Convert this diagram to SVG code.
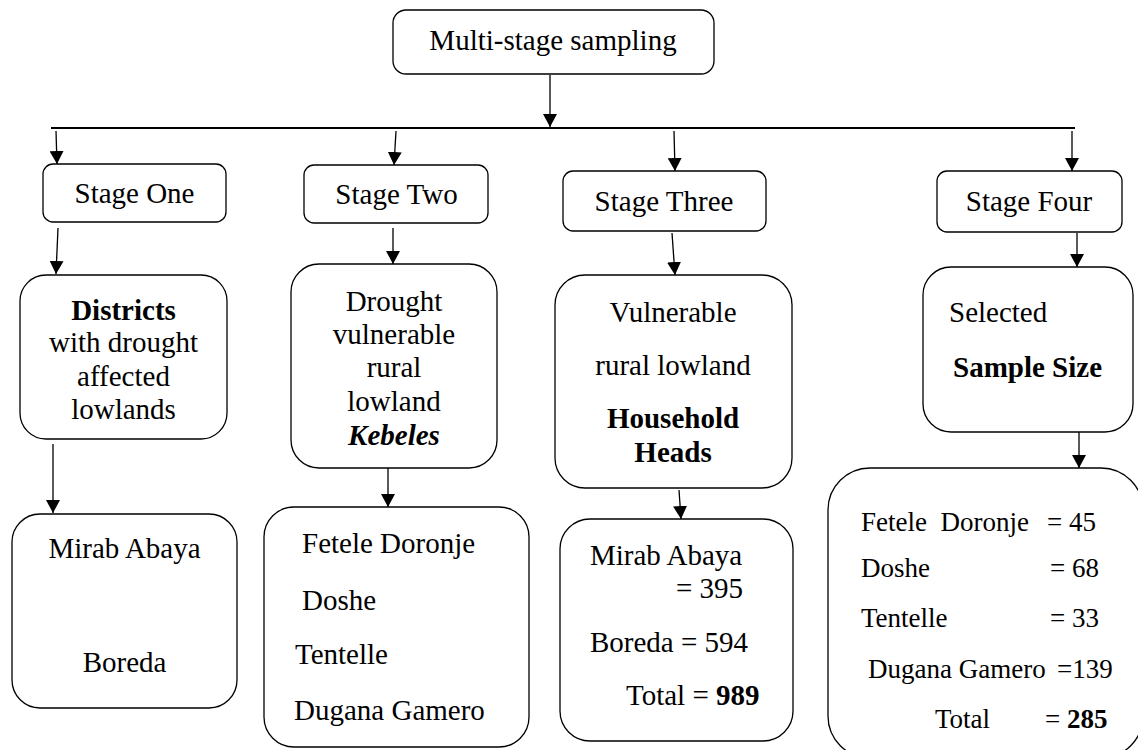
<svg xmlns="http://www.w3.org/2000/svg" width="1138" height="750" viewBox="0 0 1138 750">
<defs>
<style>
.box{fill:#fff;stroke:#000;stroke-width:1.3}
.t{font-family:"Liberation Serif","Times New Roman",serif;font-size:29px;fill:#000}
.s{font-size:27px}
.c{text-anchor:middle}
.e{text-anchor:end}
.b{font-weight:bold}
.bi{font-weight:bold;font-style:italic}
.con line{stroke:#000;stroke-width:1.3;marker-end:url(#ah)}
</style>
<marker id="ah" viewBox="0 0 13 14" refX="13" refY="7" markerWidth="13" markerHeight="14" markerUnits="userSpaceOnUse" orient="auto">
<path d="M0,0 L13,7 L0,14 z" fill="#000"/>
</marker>
</defs>
<rect width="1138" height="750" fill="#fff"/>

<g id="connectors" class="con">
<line x1="550" y1="75" x2="550" y2="127"/>
<line x1="51" y1="128" x2="1075" y2="128" style="stroke-width:2.2;marker-end:none"/>
<line x1="56" y1="131" x2="57" y2="164"/>
<line x1="396" y1="131" x2="394" y2="165"/>
<line x1="674" y1="131" x2="675" y2="171"/>
<line x1="1072" y1="131" x2="1072" y2="171"/>
<line x1="58" y1="228" x2="56" y2="274"/>
<line x1="393" y1="228" x2="393" y2="264"/>
<line x1="672" y1="233" x2="675" y2="275"/>
<line x1="1077" y1="233" x2="1077" y2="267"/>
<line x1="53" y1="444" x2="53" y2="513"/>
<line x1="388" y1="468" x2="388" y2="507"/>
<line x1="679" y1="490" x2="681" y2="519"/>
<line x1="1079" y1="432" x2="1079" y2="468"/>
</g>

<g id="top">
<rect class="box" x="393" y="10" width="321" height="64" rx="13"/>
<text class="t c" x="553" y="50">Multi-stage sampling</text>
</g>

<g id="stage1">
<rect class="box" x="43" y="164" width="183" height="58" rx="10"/>
<text class="t c" x="134.5" y="203">Stage One</text>
</g>
<g id="stage2">
<rect class="box" x="304" y="165" width="184" height="58" rx="10"/>
<text class="t c" x="396.5" y="204">Stage Two</text>
</g>
<g id="stage3">
<rect class="box" x="563" y="171" width="203" height="60" rx="10"/>
<text class="t c" x="664" y="211">Stage Three</text>
</g>
<g id="stage4">
<rect class="box" x="937" y="171" width="185" height="61" rx="10"/>
<text class="t c" x="1029" y="211">Stage Four</text>
</g>

<g id="districts">
<rect class="box" x="20" y="275" width="207" height="164" rx="26"/>
<text class="t c b" x="123.5" y="320">Districts</text>
<text class="t c" x="123.5" y="352">with drought</text>
<text class="t c" x="123.5" y="386">affected</text>
<text class="t c" x="123.5" y="419">lowlands</text>
</g>

<g id="kebeles">
<rect class="box" x="291" y="264" width="206" height="204" rx="28"/>
<text class="t c" x="394" y="311">Drought</text>
<text class="t c" x="394" y="344">vulnerable</text>
<text class="t c" x="394" y="377">rural</text>
<text class="t c" x="394" y="411">lowland</text>
<text class="t c bi" x="394" y="445">Kebeles</text>
</g>

<g id="households">
<rect class="box" x="555" y="275" width="237" height="213" rx="30"/>
<text class="t c" x="673" y="322">Vulnerable</text>
<text class="t c" x="673" y="375">rural lowland</text>
<text class="t c b" x="673" y="428">Household</text>
<text class="t c b" x="673" y="462">Heads</text>
</g>

<g id="selected">
<rect class="box" x="923" y="267" width="210" height="165" rx="28"/>
<text class="t" x="949" y="322">Selected</text>
<text class="t b" x="953" y="377">Sample Size</text>
</g>

<g id="district-list">
<rect class="box" x="12" y="514" width="225" height="194" rx="28"/>
<text class="t c" x="124.5" y="558">Mirab Abaya</text>
<text class="t c" x="124.5" y="672">Boreda</text>
</g>

<g id="kebele-list">
<rect class="box" x="264" y="507" width="265" height="240" rx="30"/>
<text class="t" x="302" y="553">Fetele Doronje</text>
<text class="t" x="302" y="610">Doshe</text>
<text class="t" x="295" y="664">Tentelle</text>
<text class="t" x="294" y="720">Dugana Gamero</text>
</g>

<g id="household-counts">
<rect class="box" x="560" y="519" width="233" height="222" rx="30"/>
<text class="t" x="590" y="565">Mirab Abaya</text>
<text class="t e" x="743" y="598">= 395</text>
<text class="t" x="590" y="652">Boreda = 594</text>
<text class="t" x="626" y="705">Total = <tspan class="b">989</tspan></text>
</g>

<g id="sample-counts">
<rect class="box" x="828" y="468" width="315" height="290" rx="42"/>
<text class="t s" x="861" y="531" xml:space="preserve">Fetele  Doronje</text>
<text class="t s" x="1047" y="531">= 45</text>
<text class="t s" x="861" y="577">Doshe</text>
<text class="t s" x="1050" y="577">= 68</text>
<text class="t s" x="861" y="627">Tentelle</text>
<text class="t s" x="1050" y="627">= 33</text>
<text class="t s" x="868" y="678">Dugana Gamero</text>
<text class="t s" x="1057" y="678">=139</text>
<text class="t s" x="935" y="728">Total</text>
<text class="t s" x="1045" y="728">= <tspan class="b">285</tspan></text>
</g>
</svg>
